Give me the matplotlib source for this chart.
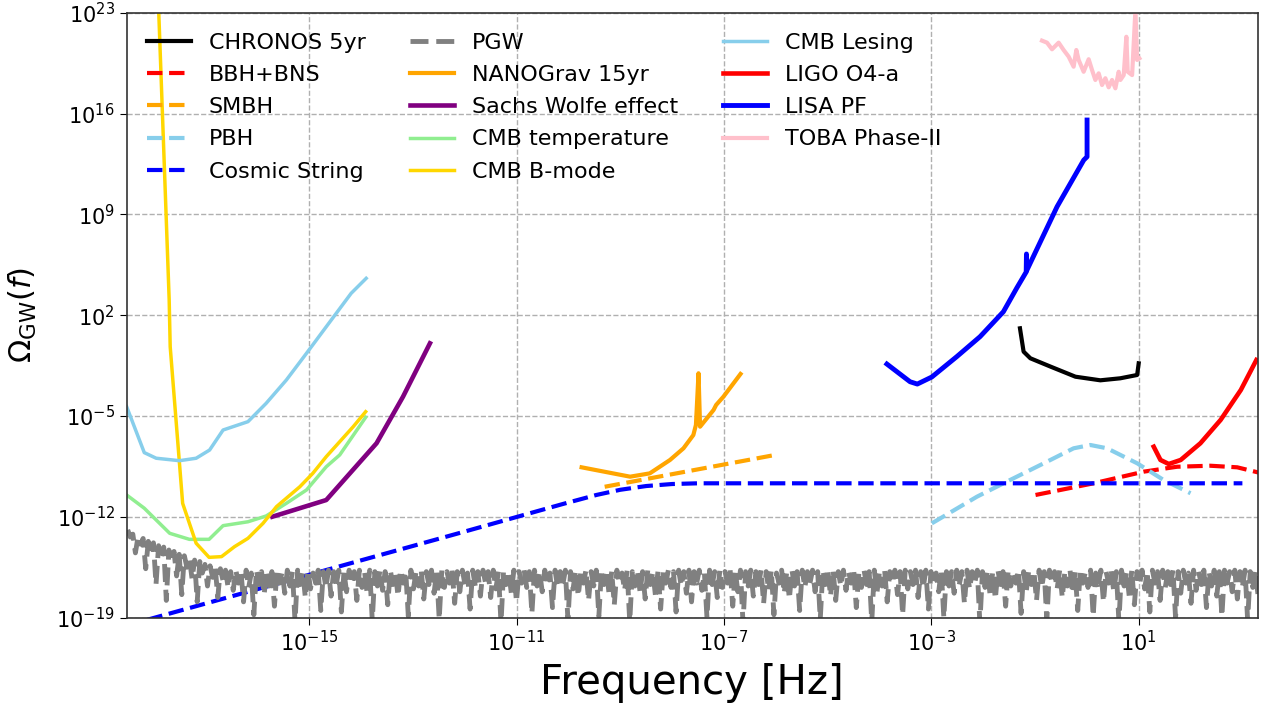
import numpy as np
import matplotlib
matplotlib.use("Agg")
import matplotlib.pyplot as plt
from matplotlib.ticker import NullLocator

# ---- data: log10(frequency [Hz]) and log10(Omega_GW) ----
chronos_logf = [-1.29, -1.22, -1.09, -0.70, -0.22, 0.26, 0.645, 0.97, 1.00]
chronos_logo = [1.09, -0.53, -0.99, -1.57, -2.27, -2.52, -2.38, -2.15, -1.34]

bbh_logf = [-0.99, 0.13, 1.10, 1.74, 2.38, 2.90, 3.32]
bbh_logo = [-10.48, -9.67, -8.86, -8.52, -8.45, -8.56, -8.93]

smbh_logf = [-9.30, -6.01]
smbh_logo = [-9.91, -7.70]

pbh_logf = [-2.99, -2.12, -1.48, -0.83, -0.255, 0.067, 0.39, 0.97, 1.48, 2.00]
pbh_logo = [-12.45, -10.60, -9.44, -8.28, -7.24, -7.01, -7.24, -8.28, -9.44, -10.36]

cs_logf = [-18.53, -12.0, -10.10, -9.46, -9.0, -8.5, -8.0, -7.5, 3.0]
cs_logo = [-19.55, -13.02, -11.10, -10.48, -10.12, -9.86, -9.72, -9.67, -9.67]

# PGW: noisy spectrum sampled on an even log-frequency grid over this range
pgw_logf_range = (-18.5, 3.3)
pgw_logo = [
    -12.9, -13.4, -13.2, -14.5, -13.4, -13.9, -13.5, -15.6, -13.7, -14.4,
    -13.8, -16.7, -14.0, -14.8, -14.1, -17.8, -14.3, -15.1, -14.4, -16.1,
    -14.6, -17.4, -14.7, -15.5, -14.9, -16.3, -15.0, -17.9, -15.1, -15.9,
    -15.3, -16.8, -15.4, -16.2, -15.5, -17.6, -15.6, -16.4, -15.7, -16.9,
    -15.8, -17.1, -15.7, -16.6, -15.8, -17.9, -15.7, -16.9, -15.9, -18.8, -15.7, -16.7, -15.8, -17.4, -15.7, -16.8, -15.8, -18.2, -15.7, -16.6,
    -15.8, -17.3, -15.7, -16.8, -15.8, -19.3, -15.7, -16.7, -15.8, -17.6, -15.7, -17.0, -15.9, -16.6, -15.7, -18.5, -15.8, -16.9, -15.7, -17.5,
    -15.8, -16.7, -15.7, -18.6, -15.8, -17.2, -15.7, -16.6, -15.8, -17.8, -15.7, -16.9, -15.8, -17.3, -15.7, -19.2, -15.8, -16.8, -15.7, -17.1,
    -15.8, -18.1, -15.7, -16.7, -15.9, -17.5, -15.7, -16.6, -15.8, -18.9, -15.7, -17.0, -15.8, -16.8, -15.7, -17.7, -15.8, -16.7, -15.7, -17.3,
    -15.8, -19.1, -15.7, -16.9, -15.8, -16.6, -15.7, -18.0, -15.8, -17.2, -15.7, -16.7, -15.9, -18.4, -15.7, -16.8, -15.8, -17.5, -15.7, -16.6,
    -15.8, -17.6, -15.7, -17.0, -15.8, -19.4, -15.7, -16.7, -15.8, -17.3, -15.7, -17.9, -15.8, -16.6, -15.7, -16.9, -15.8, -18.7, -15.7, -16.8,
    -15.8, -17.2, -15.7, -16.6, -15.9, -18.3, -15.7, -16.9, -15.8, -16.7, -15.7, -19.2, -15.8, -17.0, -15.7, -17.5, -15.8, -16.6, -15.7, -17.8,
    -15.8, -16.8, -15.7, -18.9, -15.8, -16.7, -15.7, -17.4, -15.8, -18.1, -15.7, -16.6, -15.9, -17.1, -15.7, -19.3, -15.8, -16.8, -15.7, -17.2,
    -15.8, -17.7, -15.7, -16.7, -15.8, -17.5, -15.7, -18.4, -15.8, -16.6, -15.7, -16.9, -15.8, -18.6, -15.7, -16.8, -15.8, -17.3, -15.7, -17.9,
    -15.8, -16.6, -15.7, -17.1, -15.9, -19.0, -15.7, -16.7, -15.8, -17.6, -15.7, -16.9, -15.8, -16.6, -15.7, -18.2, -15.8, -17.2, -15.7, -19.4,
    -15.8, -16.8, -15.7, -17.5, -15.8, -16.7, -15.7, -18.0, -15.8, -17.1, -15.7, -18.8, -15.9, -16.6, -15.7, -17.3, -15.8, -17.7, -15.7, -16.8,
    -15.8, -18.5, -15.7, -16.9, -15.8, -16.6, -15.7, -17.2, -15.8, -19.1, -15.7, -16.7, -15.8, -17.5, -15.7, -17.8, -15.8, -16.8, -15.7, -17.1,
    -15.8, -16.6, -15.7, -18.3, -15.9, -16.9, -15.7, -16.7, -15.8, -19.3, -15.7, -17.3, -15.8, -16.8, -15.7, -17.9, -15.8, -16.6, -15.7, -17.4,
    -15.8, -18.8, -15.7, -17.0, -15.8, -16.7, -15.7, -17.6, -15.8, -16.9, -15.7, -18.4, -15.8, -16.6, -15.9, -17.2, -15.7, -19.0, -15.8, -16.8,
    -15.8, -17.3, -15.7, -16.7, -15.8, -18.0, -15.7, -17.0, -15.8, -16.6, -15.7, -19.4, -15.8, -16.9, -15.7, -17.5, -15.8, -17.7, -15.7, -16.7,
    -15.8, -18.2, -15.7, -16.8, -15.9, -16.6, -15.7, -18.7, -15.8, -17.2, -15.7, -16.7, -15.8, -17.8, -15.7, -16.9, -15.8, -19.2, -15.7, -16.6,
    -15.8, -17.0, -15.7, -17.6, -15.8, -16.8, -15.7, -17.3, -15.8, -18.5, -15.7, -16.6, -15.8, -16.9, -15.7, -18.9, -15.9, -16.7, -15.7, -17.9,
    -15.8, -16.6, -15.7, -17.2, -15.8, -19.3, -15.7, -16.8, -15.8, -17.5, -15.7, -18.1, -15.8, -16.7, -15.7, -17.0, -15.8, -18.6, -15.7, -16.6,
    -15.8, -17.8, -15.7, -16.9, -15.8, -16.7, -15.7, -19.0, -15.8, -17.3, -15.7, -16.6, -15.9, -18.0, -15.7, -17.1, -15.8, -16.7, -15.7, -18.3,
    -15.8, -16.8, -15.7, -17.5, -15.8, -18.9, -15.7, -16.6, -15.8, -17.2, -15.7, -17.7, -15.8, -16.8, -15.7, -19.2, -15.8, -16.9, -15.7, -17.4,
]

nano_logf = [-9.745, -8.81, -8.43, -8.04, -7.78, -7.59, -7.54, -7.49, -7.46, -7.20, -7.15, -7.01, -6.68]
nano_logo = [-8.56, -9.21, -8.98, -8.05, -7.24, -6.32, -5.62, -2.03, -5.74, -4.58, -4.23, -3.66, -2.08]

sw_logf = [-15.71, -14.67, -13.70, -13.19, -12.67]
sw_logo = [-11.99, -10.83, -6.89, -3.66, 0.05]

cmbt_logf = [-18.52, -18.18, -17.69, -17.31, -16.93, -16.66, -16.18, -15.83, -15.44, -15.05, -14.67, -14.41, -13.91]
cmbt_logo = [-10.48, -11.40, -13.14, -13.56, -13.56, -12.61, -12.34, -11.94, -11.06, -10.13, -8.52, -7.70, -5.09]

bmode_logf = [-17.96, -17.90, -17.70, -17.68, -17.44, -17.18, -16.93, -16.69, -16.44, -16.18, -15.89, -15.63, -15.18, -14.93, -14.67, -14.15, -13.91]
bmode_logo = [24.5, 22.96, 3.10, -0.19, -11.06, -13.83, -14.81, -14.76, -14.07, -13.49, -12.45, -11.29, -9.91, -8.98, -7.82, -5.74, -4.70]

lens_logf = [-18.52, -18.18, -17.95, -17.50, -17.18, -16.92, -16.66, -16.18, -15.83, -15.44, -15.05, -14.67, -14.19, -13.90]
lens_logo = [-4.35, -7.54, -7.93, -8.10, -7.93, -7.36, -5.97, -5.39, -4.12, -2.50, -0.64, 1.20, 3.52, 4.56]

ligo_logf = [1.29, 1.42, 1.58, 1.81, 2.19, 2.58, 2.97, 3.27]
ligo_logo = [-7.13, -8.05, -8.33, -8.05, -6.89, -5.27, -3.19, -1.11]

lisa_logf = [-3.857, -3.41, -3.27, -2.99, -2.51, -2.06, -1.61, -1.35, -1.17, -1.165, -1.16, -0.575, -0.06, 0.004, 0.004]
lisa_logo = [-1.39, -2.62, -2.78, -2.29, -0.88, 0.51, 2.24, 3.90, 5.0, 6.25, 5.1, 9.53, 12.77, 13.0, 15.55]

toba_logf = [-0.865, -0.768, -0.672, -0.544, -0.448, -0.351, -0.255, -0.203, -0.158, -0.062, 0.035, 0.10,
             0.164, 0.228, 0.293, 0.357, 0.421, 0.486, 0.55, 0.614, 0.647, 0.711, 0.762, 0.788, 0.873,
             0.937, 0.969, 1.013]
toba_logo = [21.06, 20.92, 20.46, 20.92, 20.41, 19.95, 19.25, 20.41, 19.72, 18.90, 19.77, 19.02,
             18.33, 18.79, 17.98, 18.45, 17.82, 18.33, 17.75, 18.90, 18.33, 18.67, 21.33, 18.90, 18.67,
             23.2, 19.72, 19.83]

xticks = [1e-15, 1e-11, 1e-7, 1e-3, 1e1]
yticks = [1e-19, 1e-12, 1e-5, 1e2, 1e9, 1e16, 1e23]


def p(v):
    return 10.0 ** np.asarray(v, dtype=float)


fig = plt.figure(figsize=(12.69, 7.06), dpi=100)
ax = fig.add_axes([126.5 / 1269, 1 - 617.7 / 706, (1258 - 126.5) / 1269, (617.7 - 12.7) / 706])
ax.set_xscale("log")
ax.set_yscale("log")

pgw_f = np.logspace(pgw_logf_range[0], pgw_logf_range[1], len(pgw_logo))

ax.plot(p(chronos_logf), p(chronos_logo), color="black", lw=3, label="CHRONOS 5yr")
ax.plot(p(bbh_logf), p(bbh_logo), color="red", lw=3, ls="--", label="BBH+BNS")
ax.plot(p(smbh_logf), p(smbh_logo), color="orange", lw=3, ls="--", label="SMBH")
ax.plot(p(pbh_logf), p(pbh_logo), color="skyblue", lw=3, ls="--", label="PBH")
ax.plot(p(cs_logf), p(cs_logo), color="blue", lw=3, ls="--", label="Cosmic String")
ax.plot(pgw_f, p(pgw_logo), color="gray", lw=3.5, ls="--", label="PGW")
ax.plot(p(nano_logf), p(nano_logo), color="orange", lw=3, label="NANOGrav 15yr")
ax.plot(p(sw_logf), p(sw_logo), color="purple", lw=3.3, label="Sachs Wolfe effect")
ax.plot(p(cmbt_logf), p(cmbt_logo), color="lightgreen", lw=2.5, label="CMB temperature")
ax.plot(p(bmode_logf), p(bmode_logo), color="gold", lw=2.5, label="CMB B-mode")
ax.plot(p(lens_logf), p(lens_logo), color="skyblue", lw=2.5, label="CMB Lesing")
ax.plot(p(ligo_logf), p(ligo_logo), color="red", lw=3.3, label="LIGO O4-a")
ax.plot(p(lisa_logf), p(lisa_logo), color="blue", lw=3.5, label="LISA PF")
ax.plot(p(toba_logf), p(toba_logo), color="pink", lw=3, label="TOBA Phase-II")

ax.set_xlim(3e-19, 2e3)
ax.set_ylim(1e-19, 1e23)
ax.set_xticks(xticks)
ax.set_yticks(yticks)
ax.xaxis.set_minor_locator(NullLocator())
ax.yaxis.set_minor_locator(NullLocator())
ax.tick_params(axis="x", labelsize=15, length=5)
ax.tick_params(axis="y", labelsize=15, length=5)
ax.grid(True, which="major", ls="--", color="#b0b0b0", lw=1)
ax.set_axisbelow(True)
for s in ax.spines.values():
    s.set_linewidth(1.2)
    s.set_color("#333333")

ax.set_xlabel("Frequency [Hz]", fontsize=29, labelpad=6)
ax.set_ylabel(r"$\Omega_{\rm GW}(f)$", fontsize=22, labelpad=12)

ax.legend(loc="upper left", ncol=3, frameon=False, fontsize=16, labelspacing=0.55,
          handlelength=2.0, columnspacing=2.0)

fig.savefig("out.png", dpi=100)
